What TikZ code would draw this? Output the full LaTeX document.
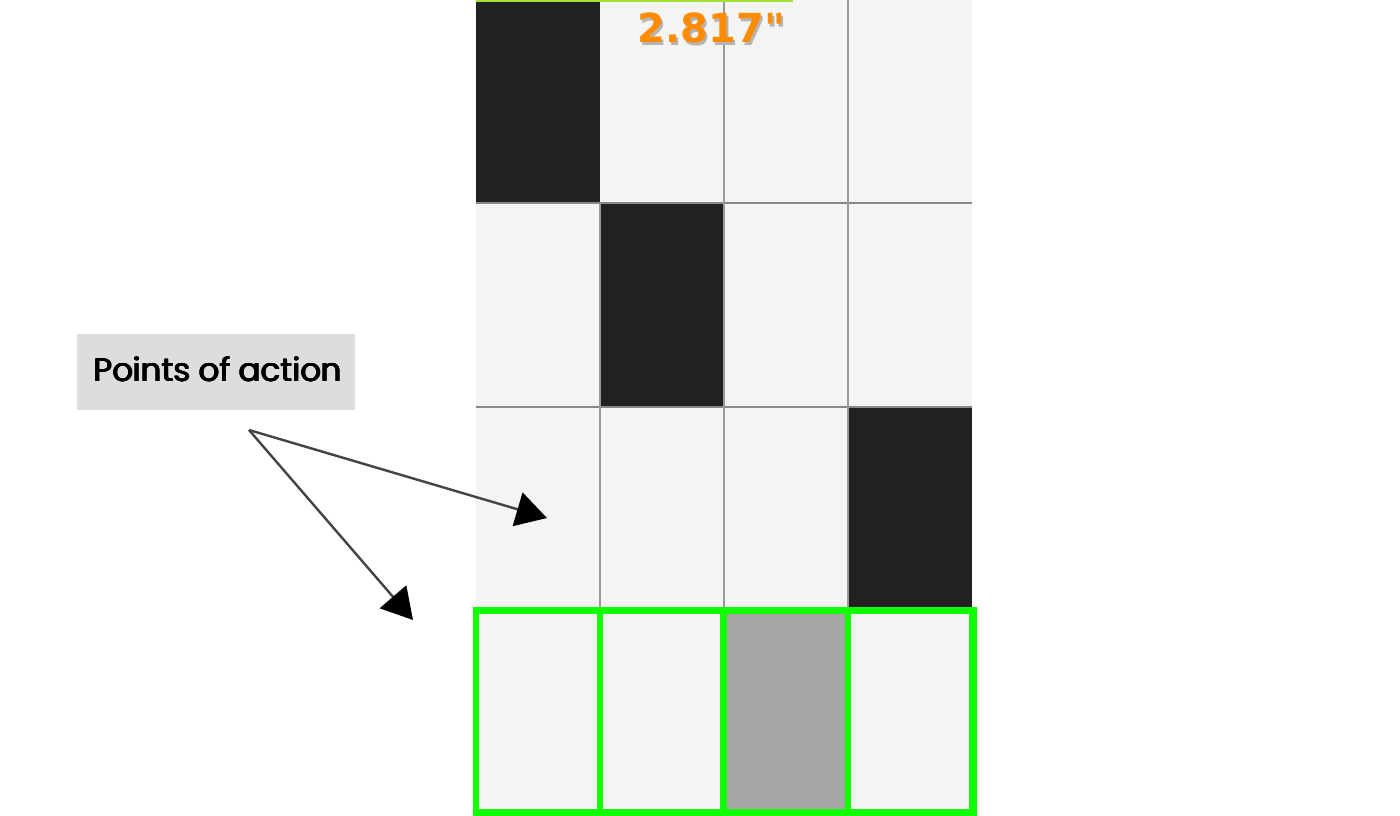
\documentclass[tikz,border=0pt]{standalone}
\usepackage{fontspec}
\setmainfont{Poppins}
\newfontfamily\labfont{Poppins}
\newfontfamily\dejavub{DejaVu Sans}
\usetikzlibrary{arrows.meta}
\newcommand\heavytext[1]{\rlap{#1}\rlap{\raisebox{0.35pt}{#1}}\kern0.35pt\rlap{#1}\rlap{\raisebox{0.35pt}{#1}}\kern0.35pt#1}
\definecolor{cellbg}{HTML}{F4F4F4}
\definecolor{cellblk}{HTML}{212121}
\definecolor{gridln}{HTML}{9A9A9A}
\definecolor{hgrid}{HTML}{888888}
\definecolor{grn}{HTML}{11FF00}
\definecolor{topgrn}{HTML}{A6E032}
\definecolor{cellgray}{HTML}{A6A6A6}
\definecolor{orng}{HTML}{FF8C00}
\definecolor{shad}{HTML}{B4B4B4}
\definecolor{labbg}{HTML}{DDDDDD}
\definecolor{arrln}{HTML}{444444}
\tikzset{
  lightcell/.style={fill=cellbg},
  darkcell/.style={fill=cellblk},
  pointer/.style={draw=arrln, line width=1.8pt,
    -{Triangle[length=23pt,width=26pt,color=black]}},
  greencell/.style={draw=grn, line width=4.3pt},
}
\begin{document}
\begin{tikzpicture}[x=0.75pt,y=-0.75pt]
\useasboundingbox (0,0) rectangle (1400,816);
\fill[white] (0,0) rectangle (1400,816);
% upper grid cells
\fill[lightcell] (476,0) rectangle (972,607);
\fill[darkcell] (476,0) rectangle (600,203);
\fill[darkcell] (600,203) rectangle (724,407);
\fill[darkcell] (848,407) rectangle (972,607);
% grid lines
\draw[hgrid, line width=0.8pt] (476,203) -- (972,203);
\draw[hgrid, line width=0.8pt] (476,407) -- (972,407);
\draw[gridln, line width=1.1pt] (600,203) -- (600,607);
\draw[gridln, line width=1.1pt] (724,0) -- (724,607);
\draw[gridln, line width=1.1pt] (848,0) -- (848,607);
% top green bar
\fill[topgrn] (476,0) rectangle (793,2.5);
% measurement text
\node[text=shad, font=\dejavub\bfseries\fontsize{30}{30}\selectfont] (meas shadow) at (713.5,30.5) {2.817"};
\node[text=orng, font=\dejavub\bfseries\fontsize{30}{30}\selectfont] (meas) at (711.5,28) {2.817"};
% bottom green row
\fill[lightcell] (476,611) rectangle (972,812);
\fill[cellgray] (724,611) rectangle (848,812);
\draw[greencell] (476,611) rectangle (600,812);
\draw[greencell] (600,611) rectangle (724,812);
\draw[greencell] (724,611) rectangle (848,812);
\draw[greencell] (848,611) rectangle (972,812);
\draw[grn, line width=2.2pt] (474,608.5) rectangle (975.5,814.5);
\draw[grn, line width=3pt] (721.5,611) -- (721.5,812);
% label
\node[fill=labbg, minimum width=208.5pt, minimum height=57pt, inner sep=0pt] (lab) at (216,372)
  {};
\node[inner sep=0pt, anchor=base] (labtext) at (218,382) {\resizebox{187pt}{!}{\labfont\fontsize{24}{24}\selectfont\heavytext{Points of action}}};
% arrows
\coordinate (src) at (249,430);
\coordinate (tgtA) at (547,518);
\coordinate (tgtB) at (413,620);
\draw[pointer] (src) -- (tgtA);
\draw[pointer] (src) -- (tgtB);
\end{tikzpicture}
\end{document}
